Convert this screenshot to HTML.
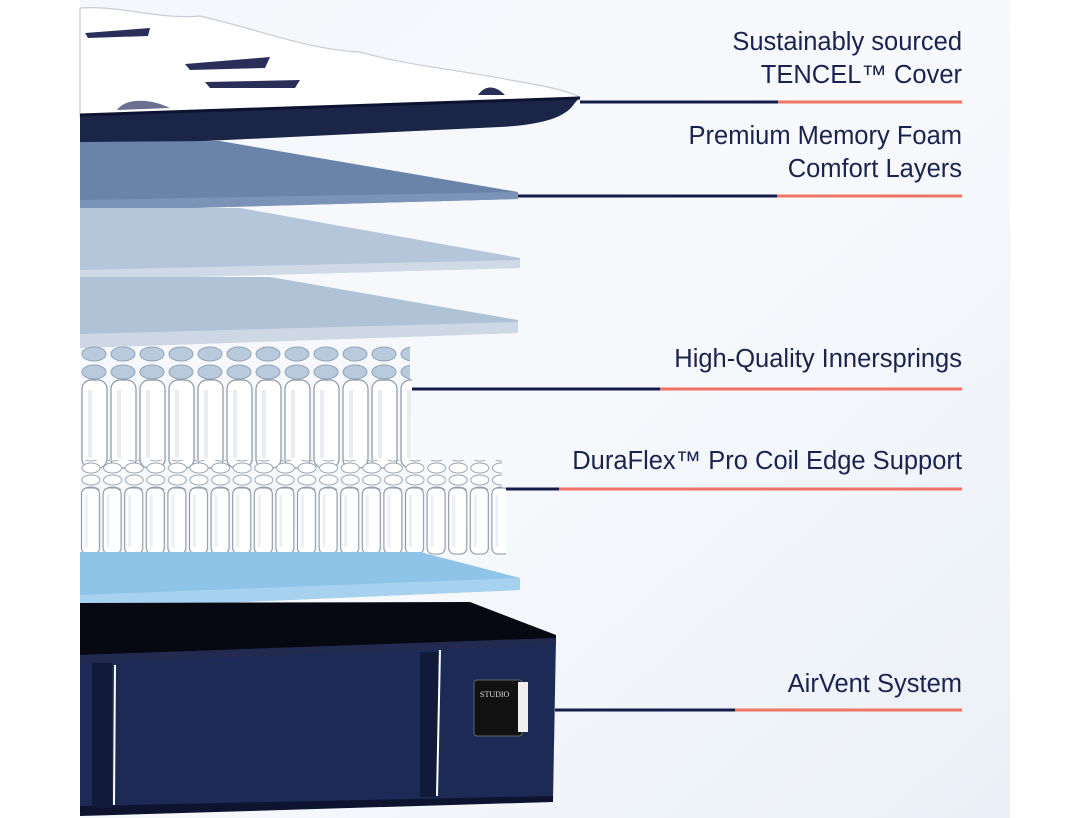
<!DOCTYPE html>
<html><head><meta charset="utf-8"><style>
html,body{margin:0;padding:0;background:#fff;}
svg{display:block}
text{font-family:"Liberation Sans",sans-serif;fill:#1a2350;font-size:25.5px}
</style></head><body>
<svg width="1090" height="818" viewBox="0 0 1090 818" xmlns="http://www.w3.org/2000/svg">
<defs>
<linearGradient id="bg" x1="0" y1="0" x2="1" y2="1">
<stop offset="0" stop-color="#f4f7fb"/><stop offset="0.5" stop-color="#f7f9fc"/><stop offset="1" stop-color="#eaf0f7"/>
</linearGradient>
<pattern id="coilU" x="80" y="378" width="29" height="94" patternUnits="userSpaceOnUse">
<rect x="2" y="2" width="25" height="88" rx="9" fill="#fff" stroke="#8b95a5" stroke-width="1.2"/>
<rect x="8" y="12" width="4" height="68" fill="#e9ecf0"/>
</pattern>
<pattern id="coilUb" x="80" y="345" width="29" height="18" patternUnits="userSpaceOnUse">
<ellipse cx="14" cy="9" rx="12" ry="7" fill="#b8cadb" stroke="#8fa3b8" stroke-width="1"/>
</pattern>
<pattern id="coilL" x="80" y="487" width="21.6" height="70" patternUnits="userSpaceOnUse">
<rect x="1.5" y="1" width="18" height="66" rx="6" fill="#fff" stroke="#8b95a5" stroke-width="1.1"/>
<rect x="5" y="8" width="3" height="52" fill="#eceff3"/>
</pattern>
<pattern id="coilLb" x="80" y="462" width="21.6" height="12" patternUnits="userSpaceOnUse">
<ellipse cx="11" cy="6" rx="9" ry="5" fill="#fff" stroke="#9aa4b2" stroke-width="1"/>
</pattern>
</defs>
<rect x="80" y="0" width="930" height="818" fill="url(#bg)"/>
<rect x="0" y="0" width="80" height="818" fill="#fff"/>

<!-- top cover -->
<path d="M80,8 C120,5 160,20 200,16 C260,30 310,50 360,52 C410,66 460,70 510,80 C545,86 565,90 580,97 L80,117 Z" fill="#fff" stroke="#c8ccd2" stroke-width="1.2"/>
<g fill="#2a2f5a">
<path d="M85,33 L150,28 L148,36 L88,38 Z"/>
<path d="M185,64 L270,57 L265,68 L190,70 Z"/>
<path d="M205,82 L300,80 L295,88 L210,88 Z"/>
<path d="M478,95 C485,85 495,85 505,95 Z"/>
<path d="M117,110 C125,98 150,98 170,108 Z" fill="#6b6f90"/>
</g>
<path d="M80,115 L580,97 L574,104 C565,118 540,125 500,127 L80,147 Z" fill="#1a2548"/>
<line x1="80" y1="115" x2="580" y2="98" stroke="#0d1330" stroke-width="3"/>

<!-- memory foam dark -->
<path d="M80,142 L220,141 L518,192 L518,199 L80,211 Z" fill="#6a83a8"/>
<path d="M80,200 L518,192 L518,199 L80,211 Z" fill="#7b93b6"/>
<!-- layer 2 -->
<path d="M80,208 L240,208 L520,258 L520,268 L80,280 Z" fill="#b5c6da"/>
<path d="M80,270 L520,260 L520,268 L80,280 Z" fill="#cfdae6"/>
<!-- layer 3 -->
<path d="M80,277 L270,277 L518,320 L518,333 L80,348 Z" fill="#b0c2d6"/>
<path d="M80,334 L518,322 L518,333 L80,348 Z" fill="#cdd8e4"/>

<!-- upper coils -->
<rect x="80" y="345" width="330" height="40" fill="url(#coilUb)"/>
<rect x="80" y="378" width="332" height="94" fill="url(#coilU)"/>
<!-- lower coils -->
<rect x="80" y="460" width="422" height="30" fill="url(#coilLb)"/>
<rect x="80" y="487" width="426" height="70" fill="url(#coilL)"/>

<!-- light blue foam -->
<path d="M80,552 L420,552 L520,578 L520,590 L80,609 Z" fill="#8ec4e8"/>
<path d="M80,595 L520,578 L520,590 L80,609 Z" fill="#a6d2ef"/>

<!-- base -->
<path d="M80,603 L470,602 L556,635 L556,645 L80,660 Z" fill="#060912"/>
<path d="M80,655 L556,638 L553,800 L80,812 Z" fill="#1c2a55"/>
<path d="M80,655 L556,638 L556,645 L80,663 Z" fill="#222a50"/>
<path d="M80,806 L553,796 L553,802 L80,816 Z" fill="#0e1430"/>
<rect x="92" y="663" width="20" height="145" fill="#121a3a"/>
<line x1="115" y1="665" x2="114" y2="805" stroke="#fff" stroke-width="2"/>
<rect x="420" y="652" width="18" height="145" fill="#121a3a"/>
<line x1="440" y1="650" x2="437" y2="796" stroke="#fff" stroke-width="2"/>
<rect x="474" y="680" width="48" height="56" rx="3" fill="#111" stroke="#666" stroke-width="1"/>
<rect x="518" y="682" width="10" height="50" fill="#eee"/>
<text x="480" y="697" style="font-size:8px;fill:#ddd;font-family:'Liberation Serif',serif">STUDIO</text>

<!-- lines -->
<g stroke-width="3">
<line x1="580" y1="102" x2="778" y2="102" stroke="#141c48"/><line x1="778" y1="102" x2="962" y2="102" stroke="#ee7566"/>
<line x1="518" y1="196" x2="777" y2="196" stroke="#141c48"/><line x1="777" y1="196" x2="962" y2="196" stroke="#ee7566"/>
<line x1="412" y1="389" x2="660" y2="389" stroke="#141c48"/><line x1="660" y1="389" x2="962" y2="389" stroke="#ee7566"/>
<line x1="506" y1="489" x2="559" y2="489" stroke="#141c48"/><line x1="559" y1="489" x2="962" y2="489" stroke="#ee7566"/>
<line x1="555" y1="710" x2="735" y2="710" stroke="#141c48"/><line x1="735" y1="710" x2="962" y2="710" stroke="#ee7566"/>
</g>

<g text-anchor="end">
<text x="962" y="50">Sustainably sourced</text>
<text x="962" y="83">TENCEL™ Cover</text>
<text x="962" y="144">Premium Memory Foam</text>
<text x="962" y="177">Comfort Layers</text>
<text x="962" y="367">High-Quality Innersprings</text>
<text x="962" y="469">DuraFlex™ Pro Coil Edge Support</text>
<text x="962" y="692">AirVent System</text>
</g>
</svg>
</body></html>
